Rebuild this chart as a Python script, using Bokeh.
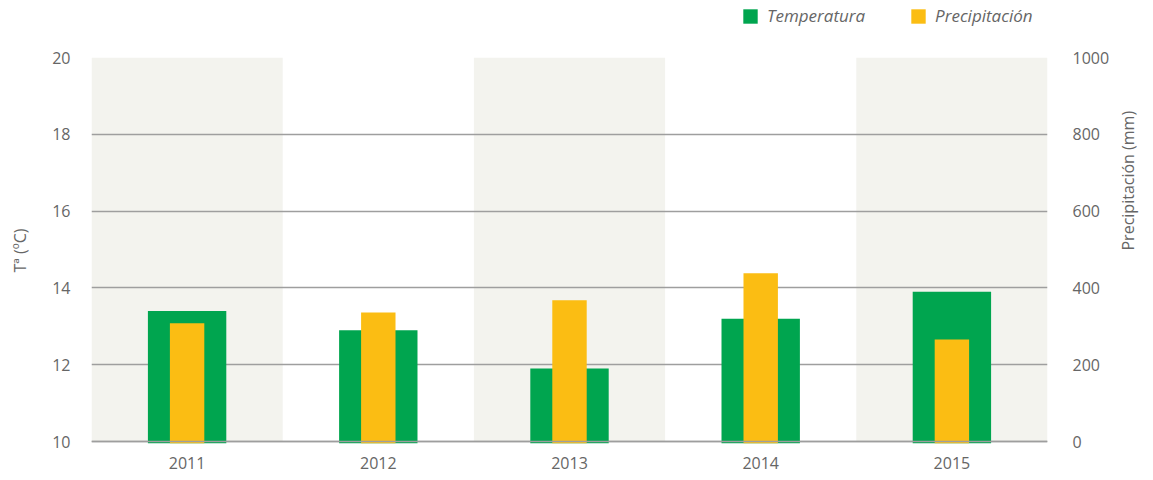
import math
from bokeh.plotting import figure
from bokeh.layouts import column
from bokeh.models import (Range1d, LinearAxis, FixedTicker, Span, Legend, LegendItem,
                          FactorRange)
from bokeh.embed import file_html
from bokeh.resources import INLINE

years = ["2011", "2012", "2013", "2014", "2015"]
temperatura = [13.4, 12.9, 11.9, 13.2, 13.9]
precipitacion = [308, 336, 368, 438, 266]
temp_ticks = [10, 12, 14, 16, 18, 20]
precip_ticks = [0, 200, 400, 600, 800, 1000]
shaded_years = years[0::2]
series_names = ["Temperatura", "Precipitación"]

GREEN = "#00a54f"
YELLOW = "#fbbd13"
BAND = "#f3f3ee"
GRID = "#9e9e9e"
TEXT = "#666666"
FONT = "Open Sans"

# ---------- legend strip ----------
leg = figure(width=1153, height=36, x_range=Range1d(0, 1), y_range=Range1d(0, 1),
             output_backend="svg", toolbar_location=None,
             min_border_left=0, min_border_right=0, min_border_top=0, min_border_bottom=0)
leg.outline_line_color = None
leg.axis.visible = False
leg.grid.visible = False
# off-screen proxies, only used to draw the legend swatches
r_t = leg.vbar(x=[-5], top=[-5], width=0.1, fill_color=GREEN, line_color=None)
r_p = leg.vbar(x=[-5], top=[-5], width=0.1, fill_color=YELLOW, line_color=None)
legend = Legend(items=[LegendItem(label=series_names[0], renderers=[r_t]),
                       LegendItem(label=series_names[1], renderers=[r_p])],
                orientation="horizontal", location=(650, 9))
legend.label_text_font = FONT
legend.label_text_font_style = "italic"
legend.label_text_font_size = "17px"
legend.label_text_color = TEXT
legend.glyph_width = 18
legend.glyph_height = 18
legend.label_standoff = 8
legend.label_height = 18
legend.spacing = 44
legend.padding = 0
legend.margin = 0
legend.border_line_color = None
legend.background_fill_alpha = 0
leg.add_layout(legend)

# ---------- main chart ----------
p = figure(width=1153, height=444, x_range=FactorRange(*years), y_range=Range1d(9.95, 20),
           output_backend="svg", toolbar_location=None,
           min_border_left=91, min_border_right=104, min_border_top=21, min_border_bottom=37)
p.outline_line_color = None
p.extra_y_ranges = {"precip": Range1d(-5, 1000)}

p.vbar(x=shaded_years, top=20, bottom=10, width=1.0, fill_color=BAND, line_color=None,
       level="image")

green = p.vbar(x=years, top=temperatura, bottom=9.95, width=0.41, fill_color=GREEN,
               line_color=None)
yellow = p.vbar(x=years, top=precipitacion, bottom=-5, width=0.18, fill_color=YELLOW,
                line_color=None, y_range_name="precip")

p.xgrid.visible = False
p.ygrid.ticker = FixedTicker(ticks=temp_ticks)
p.ygrid.grid_line_color = GRID
p.ygrid.grid_line_width = 1.5

base = Span(location=temp_ticks[0], dimension="width", line_color=GRID, line_width=1.5,
            level="overlay")
p.add_layout(base)

def style_axis(ax):
    ax.axis_line_color = None
    ax.major_tick_line_color = None
    ax.minor_tick_line_color = None
    ax.major_tick_out = 0
    ax.major_tick_in = 0
    ax.minor_tick_out = 0
    ax.minor_tick_in = 0
    ax.major_label_text_color = TEXT
    ax.major_label_text_font = FONT
    ax.major_label_text_font_size = "16px"
    ax.axis_label_text_color = TEXT
    ax.axis_label_text_font = FONT
    ax.axis_label_text_font_size = "16px"
    ax.axis_label_text_font_style = "normal"

xa = p.xaxis[0]
style_axis(xa)
xa.major_label_standoff = 13

ya = p.yaxis[0]
ya.ticker = FixedTicker(ticks=temp_ticks)
ya.axis_label = "Tª (ºC)"
style_axis(ya)
ya.major_label_standoff = 21
ya.axis_label_standoff = 18

ra = LinearAxis(y_range_name="precip", ticker=FixedTicker(ticks=precip_ticks),
                axis_label="Precipitación (mm)")
style_axis(ra)
ra.major_label_standoff = 25
ra.axis_label_standoff = 16
ra.axis_label_orientation = math.pi / 2
p.add_layout(ra, "right")

layout = column(leg, p, spacing=0)
open("out.html", "w").write(file_html(layout, INLINE))
